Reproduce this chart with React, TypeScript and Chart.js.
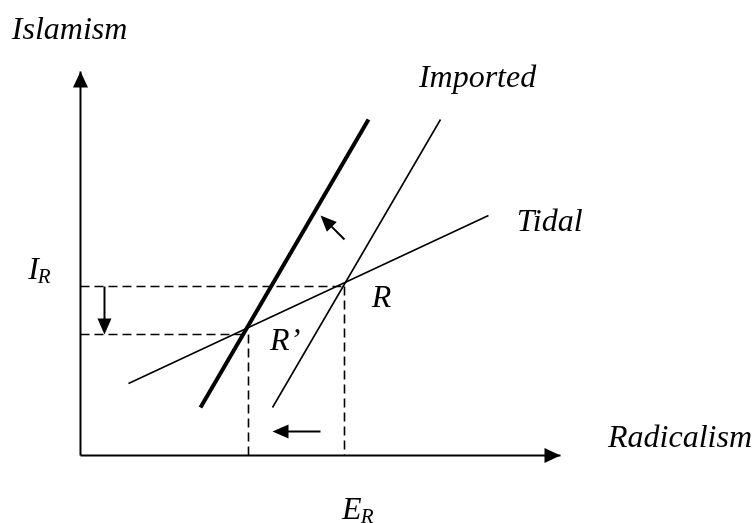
import React, { useEffect, useRef } from 'react';
import { Chart, registerables } from 'chart.js';

Chart.register(...registerables);

// Diagram data (units on the Radicalism / Islamism axes)
const xAxisLine = [{ x: 0, y: 0 }, { x: 10, y: 0 }];
const yAxisLine = [{ x: 0, y: 0 }, { x: 0, y: 8 }];
const shiftedLine = [{ x: 2.5, y: 1 }, { x: 6, y: 7 }];
const importedLine = [{ x: 4, y: 1 }, { x: 7.5, y: 7 }];
const tidalLine = [{ x: 1, y: 1.5 }, { x: 8.5, y: 5 }];

const levelIR = 3.52;
const levelIRPrime = 2.52;
const valueER = 5.5;
const valueERPrime = 3.5;

const dashedUpperH = [{ x: 0, y: levelIR }, { x: valueER, y: levelIR }];
const dashedUpperV = [{ x: valueER, y: levelIR }, { x: valueER, y: 0 }];
const dashedLowerH = [{ x: 0, y: levelIRPrime }, { x: valueERPrime, y: levelIRPrime }];
const dashedLowerV = [{ x: valueERPrime, y: levelIRPrime }, { x: valueERPrime, y: 0 }];

const shiftArrows = [
  { from: { x: 0.5, y: levelIR }, to: { x: 0.5, y: levelIRPrime } },
  { from: { x: 5, y: 0.5 }, to: { x: 4, y: 0.5 } },
  { from: { x: 5.5, y: 4.5 }, to: { x: 5, y: 5 } },
];
const axisArrows = [
  { from: { x: 9, y: 0 }, to: { x: 10, y: 0 } },
  { from: { x: 0, y: 7 }, to: { x: 0, y: 8 } },
];

const textLabels = [
  { text: 'Islamism', x: -1.43, y: 8.68 },
  { text: 'Imported', x: 7.05, y: 7.68 },
  { text: 'Tidal', x: 9.09, y: 4.68 },
  { text: 'Radicalism', x: 10.99, y: 0.18 },
  { text: 'R', x: 6.07, y: 3.09 },
  { text: 'R\u2019', x: 3.95, y: 2.2 },
];
const subLabels = [
  { main: 'I', sub: 'R', x: -1.09, y: 3.68 },
  { main: 'E', sub: 'R', x: 5.45, y: -1.32 },
];

const X_MIN = -1.677;
const X_MAX = 14.073;
const Y_MIN = -1.406;
const Y_MAX = 9.49;

const FONT = '"Liberation Serif", "Times New Roman", serif';

const seg = (data: { x: number; y: number }[], width: number, dash: number[] = []) => ({
  data,
  showLine: true,
  borderColor: '#000',
  backgroundColor: '#000',
  borderWidth: width,
  borderDash: dash,
  pointRadius: 0,
  pointHoverRadius: 0,
  fill: false,
  tension: 0,
  borderCapStyle: 'butt' as const,
});

const decorPlugin = {
  id: 'decor',
  afterDatasetsDraw(chart: any) {
    const { ctx, scales } = chart;
    const xs = scales.x;
    const ys = scales.y;
    const px = (p: { x: number; y: number }) => [xs.getPixelForValue(p.x), ys.getPixelForValue(p.y)];

    const drawArrow = (a: any, headLen: number, halfW: number, lw: number, withShaft: boolean) => {
      const [x1, y1] = px(a.from);
      const [x2, y2] = px(a.to);
      const dx = x2 - x1;
      const dy = y2 - y1;
      const len = Math.hypot(dx, dy);
      const ux = dx / len;
      const uy = dy / len;
      const bx = x2 - ux * headLen;
      const by = y2 - uy * headLen;
      ctx.save();
      ctx.strokeStyle = '#000';
      ctx.fillStyle = '#000';
      if (withShaft) {
        ctx.lineWidth = lw;
        ctx.beginPath();
        ctx.moveTo(x1, y1);
        ctx.lineTo(bx + ux, by + uy);
        ctx.stroke();
      }
      ctx.beginPath();
      ctx.moveTo(x2, y2);
      ctx.lineTo(bx - uy * halfW, by + ux * halfW);
      ctx.lineTo(bx + uy * halfW, by - ux * halfW);
      ctx.closePath();
      ctx.fill();
      ctx.restore();
    };

    shiftArrows.forEach((a) => drawArrow(a, 16, 7, 2, true));
    axisArrows.forEach((a) => drawArrow(a, 16, 7.5, 2, false));

    ctx.save();
    ctx.fillStyle = '#000';
    ctx.textBaseline = 'alphabetic';
    ctx.textAlign = 'left';
    ctx.font = `italic 32px ${FONT}`;
    textLabels.forEach((l) => {
      const [x, y] = px(l);
      ctx.fillText(l.text, x, y);
    });
    subLabels.forEach((l) => {
      const [x, y] = px(l);
      ctx.font = `italic 32px ${FONT}`;
      ctx.fillText(l.main, x, y);
      const w = ctx.measureText(l.main).width;
      ctx.font = `italic 21px ${FONT}`;
      ctx.fillText(l.sub, x + w - 1, y + 4);
    });
    ctx.restore();
  },
};

export default function App() {
  const ref = useRef<HTMLCanvasElement | null>(null);

  useEffect(() => {
    if (!ref.current) return;
    const chart = new Chart(ref.current, {
      type: 'scatter',
      data: {
        datasets: [
          seg(xAxisLine, 2),
          seg(yAxisLine, 2),
          seg(dashedUpperH, 1.6, [9, 5]),
          seg(dashedUpperV, 1.6, [9, 5]),
          seg(dashedLowerH, 1.6, [9, 5]),
          seg(dashedLowerV, 1.6, [9, 5]),
          seg(tidalLine, 1.6),
          seg(importedLine, 1.6),
          seg(shiftedLine, 4),
        ] as any,
      },
      options: {
        animation: false,
        responsive: false,
        events: [],
        layout: { padding: 0 },
        plugins: {
          legend: { display: false },
          tooltip: { enabled: false },
        },
        scales: {
          x: { type: 'linear', min: X_MIN, max: X_MAX, display: false },
          y: { type: 'linear', min: Y_MIN, max: Y_MAX, display: false },
        },
      },
      plugins: [decorPlugin],
    });
    return () => chart.destroy();
  }, []);

  return (
    <div style={{ position: 'fixed', left: 0, top: 0, width: 756, height: 523, background: '#fff' }}>
      <canvas ref={ref} width={756} height={523} style={{ width: 756, height: 523 }} />
    </div>
  );
}
